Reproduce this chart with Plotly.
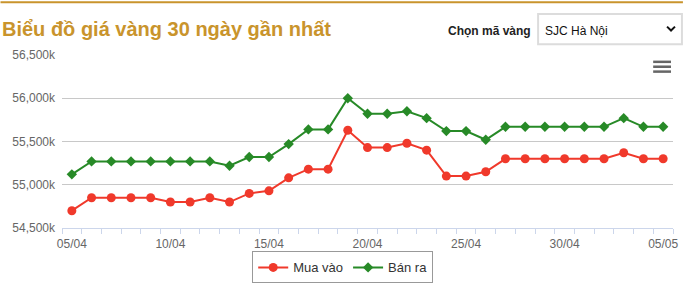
import plotly.graph_objects as go

dates = ["05/04", "06/04", "07/04", "08/04", "09/04", "10/04", "11/04", "12/04",
         "13/04", "14/04", "15/04", "16/04", "17/04", "18/04", "19/04", "20/04",
         "21/04", "22/04", "23/04", "24/04", "25/04", "26/04", "27/04", "28/04",
         "29/04", "30/04", "01/05", "02/05", "03/05", "04/05", "05/05"]

mua_vao = [54700, 54850, 54850, 54850, 54850, 54800, 54800, 54850,
           54800, 54900, 54930, 55080, 55180, 55180, 55630, 55430,
           55430, 55480, 55400, 55100, 55100, 55150, 55300, 55300,
           55300, 55300, 55300, 55300, 55370, 55300, 55300]

ban_ra = [55120, 55270, 55270, 55270, 55270, 55270, 55270, 55270,
          55220, 55320, 55320, 55470, 55640, 55640, 56000, 55820,
          55820, 55850, 55770, 55620, 55620, 55520, 55670, 55670,
          55670, 55670, 55670, 55670, 55770, 55670, 55670]

y_ticks = [54500, 55000, 55500, 56000, 56500]

W, H = 690, 295
ML, MR, MT, MB = 62, 12, 55, 63
PW, PH = W - ML - MR, H - MT - MB


def px(x):
    return (x - ML) / PW


def py(y):
    return (H - MB - y) / PH


FONT = "Liberation Sans, Arial, sans-serif"
RED = "#f0392b"
GREEN = "#278a27"
GOLD = "#c9942c"

idx = list(range(len(dates)))

fig = go.Figure()
fig.add_trace(go.Scatter(
    x=idx, y=mua_vao, name="Mua vào", mode="lines+markers",
    line=dict(color=RED, width=2),
    marker=dict(symbol="circle", size=9, color=RED),
))
fig.add_trace(go.Scatter(
    x=idx, y=ban_ra, name="Bán ra", mode="lines+markers",
    line=dict(color=GREEN, width=2),
    marker=dict(symbol="diamond", size=8, color=GREEN),
))

label_idx = [i for i in idx if i % 5 == 0]

shapes = [
    # top gold border
    dict(type="line", xref="paper", yref="paper", x0=px(0), x1=px(688), y0=py(1), y1=py(1),
         line=dict(color=GOLD, width=2)),
    # dropdown box
    dict(type="rect", xref="paper", yref="paper", x0=px(542), x1=px(687), y0=py(13), y1=py(44),
         line=dict(color="#dcdcdc", width=2), fillcolor="white"),
    # chevron
    dict(type="path", xref="paper", yref="paper",
         path=f"M {px(672)} {py(26)} L {px(676)} {py(30)} L {px(680)} {py(26)}",
         line=dict(color="#111", width=2)),
]
for yy in (62, 67, 72):
    shapes.append(dict(type="line", xref="paper", yref="paper", x0=px(658), x1=px(676),
                       y0=py(yy), y1=py(yy), line=dict(color="#666", width=2.5)))

annotations = [
    dict(text="Chọn mã vàng", xref="paper", yref="paper", x=px(449), y=py(30),
         xanchor="left", yanchor="middle", showarrow=False,
         font=dict(family=FONT, size=12, color="#222", weight="bold")),
    dict(text="SJC Hà Nội", xref="paper", yref="paper", x=px(547), y=py(30),
         xanchor="left", yanchor="middle", showarrow=False,
         font=dict(family=FONT, size=12, color="#111")),
]

fig.update_layout(
    width=W, height=H,
    margin=dict(l=ML, r=MR, t=MT, b=MB, pad=0),
    paper_bgcolor="white", plot_bgcolor="white",
    font=dict(family=FONT, size=12, color="#666"),
    title=dict(text="<b>Biểu đồ giá vàng 30 ngày gần nhất</b>", xref="container", yref="container",
               x=2 / W, xanchor="left", y=1 - 29 / H, yanchor="middle",
               font=dict(family=FONT, size=20, color=GOLD)),
    xaxis=dict(
        range=[-0.5, len(dates) - 0.5],
        tickmode="array", tickvals=label_idx, ticktext=[dates[i] for i in label_idx],
        ticks="", showgrid=False, zeroline=False,
        showline=True, linecolor="#ccd6eb", linewidth=1,
        ticklabelstandoff=5,
        tickfont=dict(size=12, color="#666"),
        minor=dict(tickmode="array", tickvals=[i - 0.5 for i in range(len(dates) + 1)],
                   ticks="outside", ticklen=5, tickcolor="#ccd6eb", tickwidth=1, showgrid=False),
        fixedrange=True,
    ),
    yaxis=dict(
        range=[y_ticks[0], y_ticks[-1]],
        tickmode="array", tickvals=y_ticks,
        ticktext=[f"{v:,}k" for v in y_ticks],
        showgrid=True, gridcolor="#c8c8c8", gridwidth=1,
        zeroline=False, showline=False, ticks="",
        ticklabelstandoff=6,
        tickfont=dict(size=12, color="#666"),
        fixedrange=True,
    ),
    showlegend=True,
    legend=dict(
        orientation="h", x=px(345), xanchor="center", y=py(256), yanchor="top",
        bordercolor="#999", borderwidth=1, bgcolor="white",
        font=dict(family=FONT, size=13, color="#333"),
        itemwidth=30, tracegroupgap=0,
    ),
    shapes=shapes,
    annotations=annotations,
)

fig.write_html("out.html", config={"displayModeBar": False})
